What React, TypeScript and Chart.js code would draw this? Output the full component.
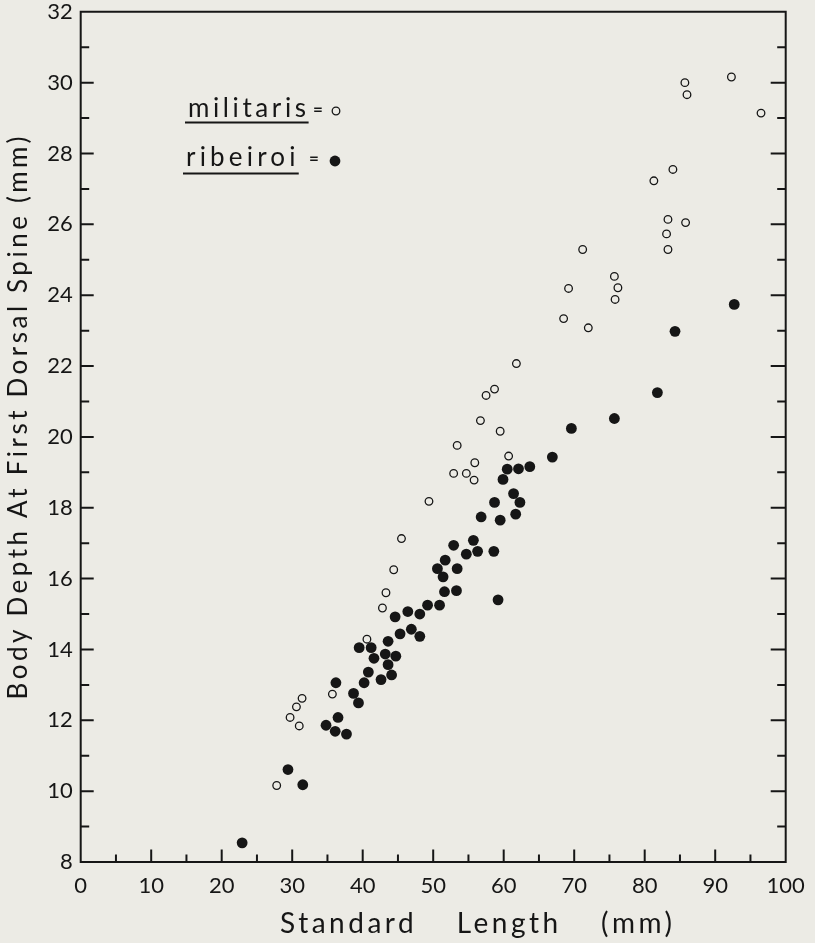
import React, { useEffect, useRef } from "react";
import { Chart, registerables } from "chart.js";

Chart.register(...registerables);

// ---------- data ----------
const seriesNames = ["militaris", "ribeiroi"];

const militarisX = [
  85.7, 86.0, 92.3, 96.5, 84.0, 81.3, 83.3, 85.8, 83.1, 83.3,
  71.2, 75.7, 69.2, 76.2, 75.8, 68.5, 72.0, 61.8, 58.7, 57.5,
  56.7, 59.5, 53.4, 60.7, 55.9, 52.9, 54.7, 55.8, 49.4, 45.5,
  44.4, 43.3, 42.8, 40.6, 35.7, 31.4, 30.6, 29.7, 31.0, 27.8,
];
const militarisY = [
  30.0, 29.66, 30.16, 29.14, 27.55, 27.23, 26.14, 26.05, 25.73, 25.29,
  25.29, 24.53, 24.19, 24.21, 23.88, 23.34, 23.08, 22.07, 21.35, 21.17,
  20.46, 20.16, 19.76, 19.46, 19.27, 18.97, 18.97, 18.78, 18.18, 17.13,
  16.25, 15.6, 15.17, 14.29, 12.74, 12.62, 12.38, 12.08, 11.84, 10.16,
];

const ribeiroiX = [
  92.7, 84.3, 81.8, 75.7, 69.6, 66.9, 63.7, 62.1, 60.5, 59.9,
  61.4, 62.3, 58.7, 61.7, 56.8, 59.5, 55.7, 52.9, 58.6, 56.3,
  54.7, 51.7, 50.6, 53.4, 51.4, 51.6, 53.3, 59.2, 49.2, 50.9,
  46.4, 48.1, 44.6, 46.9, 45.3, 48.1, 43.6, 39.5, 41.2, 44.7,
  43.2, 41.6, 43.6, 40.8, 44.1, 40.2, 42.6, 36.2, 38.7, 39.4,
  36.5, 34.8, 36.1, 37.7, 29.4, 31.5, 22.9,
];
const ribeiroiY = [
  23.74, 22.98, 21.25, 20.52, 20.24, 19.43, 19.16, 19.1, 19.09, 18.8,
  18.4, 18.15, 18.15, 17.82, 17.74, 17.65, 17.08, 16.94, 16.77, 16.77,
  16.69, 16.52, 16.28, 16.28, 16.05, 15.63, 15.66, 15.4, 15.25, 15.25,
  15.07, 15.0, 14.92, 14.57, 14.44, 14.37, 14.23, 14.05, 14.05, 13.81,
  13.87, 13.75, 13.57, 13.36, 13.28, 13.06, 13.15, 13.06, 12.76, 12.49,
  12.08, 11.86, 11.69, 11.61, 10.61, 10.18, 8.54,
];

const xTickValues = [0, 10, 20, 30, 40, 50, 60, 70, 80, 90, 100];
const yTickValues = [8, 10, 12, 14, 16, 18, 20, 22, 24, 26, 28, 30, 32];

const xTitleWords = ["Standard", "Length", "(mm)"];
const yTitleWords = ["Body", "Depth", "At", "First", "Dorsal", "Spine", "(mm)"];

// ---------- style ----------
const BG = "#ecebe5";
const INK = "#161616";
const FONT = "Lato, 'DejaVu Sans', sans-serif";

const toPoints = (xs: number[], ys: number[]) =>
  xs.map((x, i) => ({ x, y: ys[i] }));

// draw words on one line, centred on (0,0), with a fixed gap between words
function drawWords(ctx: any, words: string[], gap: number, spacing: number) {
  ctx.textAlign = "left";
  ctx.textBaseline = "alphabetic";
  const widths = words.map((w) => ctx.measureText(w).width - spacing);
  const total = widths.reduce((a, b) => a + b, 0) + gap * (words.length - 1);
  let x = -total / 2;
  words.forEach((w, i) => {
    ctx.fillText(w, x, 0);
    x += widths[i] + gap;
  });
}

const framePlugin = {
  id: "framePlugin",
  beforeDraw(chart: any) {
    const { ctx, width, height } = chart;
    ctx.save();
    ctx.fillStyle = BG;
    ctx.fillRect(0, 0, width, height);
    ctx.restore();
  },
  afterDatasetsDraw(chart: any) {
    const { ctx, chartArea, scales } = chart;
    const { left, right, top, bottom } = chartArea;
    const xs = scales.x;
    const ys = scales.y;
    ctx.save();
    ctx.strokeStyle = INK;
    ctx.lineWidth = 2;
    ctx.lineCap = "square";
    ctx.beginPath();
    ctx.rect(left, top, right - left, bottom - top);
    ctx.stroke();

    ctx.lineCap = "butt";
    for (let v = ys.min + 1; v < ys.max; v += 1) {
      const py = ys.getPixelForValue(v);
      const major = v % 2 === 0;
      ctx.beginPath();
      ctx.moveTo(left, py);
      ctx.lineTo(left + (major ? 13 : 8.5), py);
      ctx.moveTo(right, py);
      ctx.lineTo(right - (major ? 15 : 8.5), py);
      ctx.stroke();
    }
    for (let v = xs.min + 5; v < xs.max; v += 5) {
      const px = xs.getPixelForValue(v);
      const major = v % 10 === 0;
      ctx.beginPath();
      ctx.moveTo(px, bottom);
      ctx.lineTo(px, bottom - (major ? 12.5 : 7.5));
      ctx.stroke();
    }
    ctx.restore();
  },
  afterDraw(chart: any) {
    const { ctx } = chart;
    ctx.save();
    ctx.fillStyle = INK;
    ctx.strokeStyle = INK;

    // x title
    ctx.save();
    ctx.font = `28px ${FONT}`;
    (ctx as any).letterSpacing = "3.5px";
    ctx.translate(476, 933);
    drawWords(ctx, xTitleWords, 43, 3.5);
    ctx.restore();

    // y title
    ctx.save();
    ctx.font = `26px ${FONT}`;
    (ctx as any).letterSpacing = "3.5px";
    ctx.translate(26.5, 418);
    ctx.rotate(-Math.PI / 2);
    drawWords(ctx, yTitleWords, 13, 3.5);
    ctx.restore();

    // legend
    const rows = [
      { name: seriesNames[0], ls: 3.6, tx: 188, by: 116.5, ex: 313, cx: 336, cy: 111, filled: false, uy: 121.5 },
      { name: seriesNames[1], ls: 4.2, tx: 186, by: 166, ex: 309, cx: 335, cy: 161, filled: true, uy: 172.5 },
    ];
    rows.forEach((r) => {
      ctx.font = `26px ${FONT}`;
      (ctx as any).letterSpacing = `${r.ls}px`;
      ctx.textAlign = "left";
      ctx.textBaseline = "alphabetic";
      ctx.fillText(r.name, r.tx, r.by);
      const w = ctx.measureText(r.name).width;
      ctx.fillRect(r.tx - 3, r.uy, w + 2, 2);
      (ctx as any).letterSpacing = "0px";
      ctx.font = `bold 17px ${FONT}`;
      ctx.fillText("=", r.ex, r.by - 2);
      ctx.beginPath();
      if (r.filled) {
        ctx.arc(r.cx, r.cy, 5.4, 0, Math.PI * 2);
        ctx.fill();
      } else {
        ctx.lineWidth = 1.3;
        ctx.arc(r.cx, r.cy, 3.8, 0, Math.PI * 2);
        ctx.stroke();
      }
    });
    ctx.restore();
  },
};

export default function App() {
  const ref = useRef<HTMLCanvasElement | null>(null);

  useEffect(() => {
    if (!ref.current) return;
    const chart = new Chart(ref.current, {
      type: "scatter",
      data: {
        datasets: [
          {
            label: seriesNames[0],
            data: toPoints(militarisX, militarisY),
            pointStyle: "circle",
            pointRadius: 3.8,
            pointBorderWidth: 1.3,
            borderColor: INK,
            backgroundColor: "rgba(0,0,0,0)",
            pointBackgroundColor: "rgba(0,0,0,0)",
            pointBorderColor: INK,
          },
          {
            label: seriesNames[1],
            data: toPoints(ribeiroiX, ribeiroiY),
            pointStyle: "circle",
            pointRadius: 5.4,
            pointBorderWidth: 0,
            borderColor: INK,
            backgroundColor: INK,
            pointBackgroundColor: INK,
          },
        ],
      },
      options: {
        animation: false,
        responsive: false,
        devicePixelRatio: 1,
        events: [],
        layout: { padding: { top: 11.8, right: 29.3, bottom: 0, left: 0 } },
        plugins: {
          legend: { display: false },
          tooltip: { enabled: false },
          title: { display: false },
        },
        scales: {
          x: {
            type: "linear",
            min: 0,
            max: 100,
            grid: { display: false, drawTicks: false },
            border: { display: false },
            ticks: {
              autoSkip: false,
              maxRotation: 0,
              padding: 11,
              color: INK,
              font: { family: FONT, size: 22 },
            },
            afterBuildTicks: (s: any) => {
              s.ticks = xTickValues.map((v) => ({ value: v }));
            },
            afterFit: (s: any) => {
              s.height = 81;
              s.paddingLeft = 0;
              s.paddingRight = 0;
            },
          },
          y: {
            type: "linear",
            min: 8,
            max: 32,
            grid: { display: false, drawTicks: false },
            border: { display: false },
            ticks: {
              autoSkip: false,
              padding: 8,
              color: INK,
              font: { family: FONT, size: 22 },
            },
            afterBuildTicks: (s: any) => {
              s.ticks = yTickValues.map((v) => ({ value: v }));
            },
            afterFit: (s: any) => {
              s.width = 80.7;
              s.paddingTop = 0;
              s.paddingBottom = 0;
            },
          },
        },
      },
      plugins: [framePlugin],
    } as any);
    return () => chart.destroy();
  }, []);

  return (
    <div style={{ position: "absolute", left: 0, top: 0, width: 815, height: 943, background: BG }}>
      <canvas ref={ref} width={815} height={943} style={{ display: "block" }} />
    </div>
  );
}
